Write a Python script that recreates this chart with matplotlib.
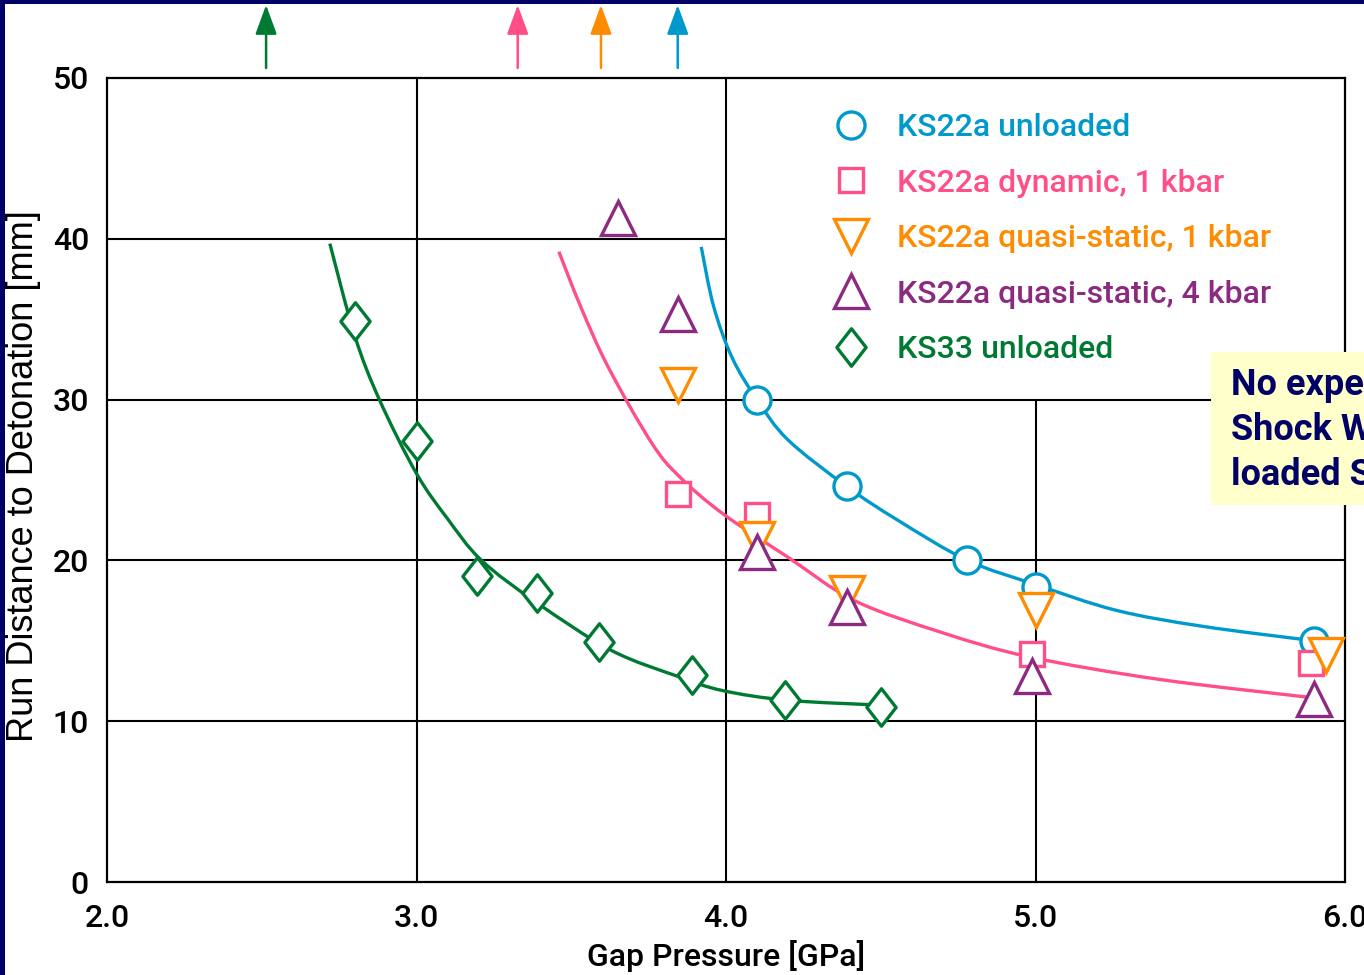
import numpy as np
import matplotlib.pyplot as plt
from matplotlib.lines import Line2D
from matplotlib.patches import Rectangle, PathPatch
from matplotlib.path import Path

# colours
navy = '#000066'
blue = '#0099cc'
pink = '#ff4f86'
orange = '#ff8c00'
purple = '#8b2a80'
green = '#007a33'

# measured points
ks22_unl_x = [4.10, 4.39, 4.78, 5.00, 5.90]
ks22_unl_y = [30.0, 24.6, 20.0, 18.35, 15.0]

ks22_dyn_x = [3.845, 4.10, 4.99, 5.89]
ks22_dyn_y = [24.1, 22.8, 14.2, 13.6]

ks22_qs1_x = [3.845, 4.10, 4.39, 5.00, 5.94]
ks22_qs1_y = [30.9, 21.3, 18.0, 16.9, 14.1]

ks22_qs4_x = [3.65, 3.845, 4.10, 4.39, 4.99, 5.90]
ks22_qs4_y = [41.3, 35.3, 20.5, 17.1, 12.8, 11.4]

ks33_x = [2.80, 3.00, 3.195, 3.39, 3.59, 3.89, 4.19, 4.50]
ks33_y = [34.9, 27.4, 19.0, 18.0, 14.9, 12.9, 11.3, 10.9]

# fit curves
fit_blue_x = [3.92, 3.96, 4.02, 4.10, 4.20, 4.39, 4.555, 4.78, 5.00, 5.26, 5.54, 5.90]
fit_blue_y = [39.5, 35.8, 32.6, 30.0, 27.5, 24.6, 22.5, 20.0, 18.5, 16.9, 15.9, 15.0]

fit_pink_x = [3.46, 3.53, 3.62, 3.76, 3.85, 3.99, 4.20, 4.415, 4.70, 4.98, 5.40, 5.90]
fit_pink_y = [39.2, 35.8, 32.0, 27.3, 25.2, 22.9, 20.2, 17.5, 15.5, 14.0, 12.6, 11.45]

fit_green_x = [2.72, 2.80, 2.88, 3.00, 3.10, 3.21, 3.39, 3.63, 3.85, 3.99, 4.20, 4.50]
fit_green_y = [39.7, 34.0, 30.0, 25.4, 22.6, 20.0, 17.35, 14.4, 12.75, 11.9, 11.3, 11.0]

arrow_x = [2.514, 3.327, 3.596, 3.844]
arrow_c = [green, pink, orange, blue]

hgrid = [(40, 2.0, 4.0), (30, 2.0, 6.0), (20, 2.0, 6.0), (10, 2.0, 6.0)]
vgrid = [(3.0, 0, 50), (4.0, 0, 50), (5.0, 0, 30)]

xticks = [2.0, 3.0, 4.0, 5.0, 6.0]
yticks = [0, 10, 20, 30, 40, 50]

narrow = ['Roboto', 'DejaVu Sans']


def smooth_path(xs, ys):
    # Catmull-Rom through the read points, drawn as cubic Bezier segments
    p = np.column_stack([xs, ys]).astype(float)
    verts = [p[0]]
    codes = [Path.MOVETO]
    for i in range(len(p) - 1):
        p0 = p[i - 1] if i > 0 else p[i]
        p3 = p[i + 2] if i + 2 < len(p) else p[i + 1]
        c1 = p[i] + (p[i + 1] - p0) / 6.0
        c2 = p[i + 1] - (p3 - p[i]) / 6.0
        verts += [c1, c2, p[i + 1]]
        codes += [Path.CURVE4] * 3
    return Path(verts, codes)


fig = plt.figure(figsize=(13.64, 9.75), dpi=100)
fig.patch.set_facecolor('white')
ax = fig.add_axes([107 / 1364, 93 / 975, 1238 / 1364, 804 / 975])
ax.set_xlim(2.0, 6.0)
ax.set_ylim(0, 50)

for y, x0, x1 in hgrid:
    ax.hlines(y, x0, x1, color='black', lw=1.5, zorder=1)
for x, y0, y1 in vgrid:
    ax.vlines(x, y0, y1, color='black', lw=1.5, zorder=1)

for s in ax.spines.values():
    s.set_linewidth(1.6)

ax.set_xticks(xticks)
ax.set_xticklabels(['%.1f' % v for v in xticks])
ax.set_yticks(yticks)
ax.tick_params(length=0, labelsize=23)
ax.tick_params(axis='x', pad=16)
ax.tick_params(axis='y', pad=13)
for lab in ax.get_xticklabels() + ax.get_yticklabels():
    lab.set_family(narrow)
    lab.set_fontweight('medium')

ax.set_xlabel('Gap Pressure [GPa]', fontsize=23, family=narrow, fontweight='medium')
ax.xaxis.set_label_coords(0.5, -58 / 804)
ax.set_ylabel('Run Distance to Detonation [mm]', fontsize=26, family=['Liberation Sans'])
ax.yaxis.set_label_coords(-66 / 1238, 0.505)

# fit curves
for xs, ys, c in [(fit_blue_x, fit_blue_y, blue), (fit_pink_x, fit_pink_y, pink),
                  (fit_green_x, fit_green_y, green)]:
    ax.add_patch(PathPatch(smooth_path(xs, ys), facecolor='none', edgecolor=c,
                           lw=2.4, zorder=3))

diamond = Path([(0, 1), (0.78, 0), (0, -1), (-0.78, 0), (0, 1)],
               [Path.MOVETO, Path.LINETO, Path.LINETO, Path.LINETO, Path.CLOSEPOLY])

series = [
    (ks22_unl_x, ks22_unl_y, 'o', 19.5, blue, 'KS22a unloaded'),
    (ks22_dyn_x, ks22_dyn_y, 's', 17, pink, 'KS22a dynamic, 1 kbar'),
    (ks22_qs1_x, ks22_qs1_y, 'v', 25, orange, 'KS22a quasi-static, 1 kbar'),
    (ks22_qs4_x, ks22_qs4_y, '^', 25, purple, 'KS22a quasi-static, 4 kbar'),
    (ks33_x, ks33_y, diamond, 27, green, 'KS33 unloaded'),
]
handles = []
for i, (xs, ys, m, ms, c, lab) in enumerate(series):
    ax.plot(xs, ys, ls='none', marker=m, ms=ms, mfc='white', mec=c, mew=2.4,
            zorder=4 + i, clip_on=False)
    handles.append(Line2D([], [], ls='none', marker=m, ms=ms, mfc='white', mec=c,
                          mew=2.4, label=lab))

leg = ax.legend(handles=handles, loc='upper left', bbox_to_anchor=(830 / 1364, 1 - 113 / 975),
                bbox_transform=fig.transFigure, frameon=False,
                labelcolor='markeredgecolor', handlelength=1.3, handletextpad=0.8,
                labelspacing=0.83, borderpad=0, borderaxespad=0,
                prop={'family': narrow, 'size': 23, 'weight': 'medium'})

# arrows above the plot
for x, c in zip(arrow_x, arrow_c):
    ax.annotate('', xy=(x, 1 + 73 / 804), xytext=(x, 1 + 10 / 804),
                xycoords=('data', 'axes fraction'), textcoords=('data', 'axes fraction'),
                arrowprops=dict(arrowstyle='-|>,head_length=0.9,head_width=0.33',
                                mutation_scale=20, color=c, lw=1.8,
                                shrinkA=0, shrinkB=0),
                annotation_clip=False)

# yellow note box
fig.patches.append(Rectangle((1211 / 1364, 470 / 975), 200 / 1364, 153 / 975,
                             transform=fig.transFigure, facecolor='#ffffcc',
                             edgecolor='none', zorder=5))
note_lines = ['No experimental', 'Shock Wave data for', 'loaded Samples']
for k, t in enumerate(note_lines):
    fig.text(1231 / 1364, 1 - (385 + 45 * k) / 975, t, color=navy, fontsize=26,
             fontweight='bold', family=narrow, va='center', ha='left', zorder=6)

# navy slide frame
fig.patches.append(Rectangle((0, 0), 5 / 1364, 1, transform=fig.transFigure,
                             facecolor=navy, edgecolor='none', zorder=10))
fig.patches.append(Rectangle((0, 1 - 4 / 975), 1, 4 / 975, transform=fig.transFigure,
                             facecolor=navy, edgecolor='none', zorder=10))

fig.savefig('out.png', dpi=100)
